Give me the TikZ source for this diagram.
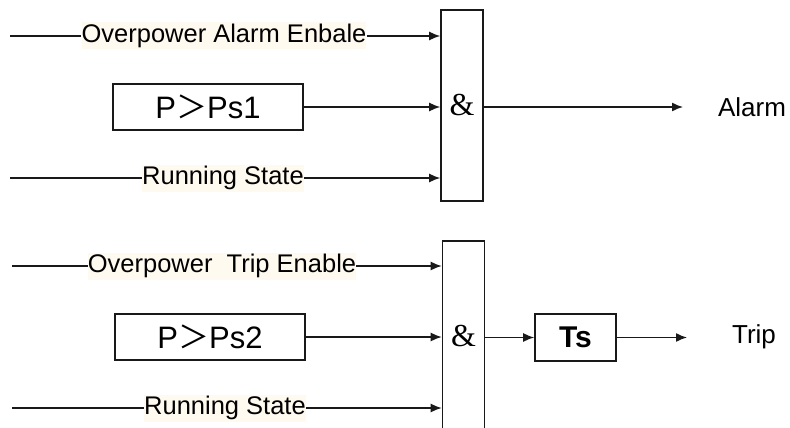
\documentclass[tikz,border=0pt]{standalone}
\usepackage{fontspec}
\setmainfont{Liberation Sans}
\newfontfamily\seriffam{Liberation Serif}
\newfontfamily\cjk{Noto Sans CJK SC}
\usetikzlibrary{arrows.meta}
\definecolor{labelbg}{RGB}{255,250,240}
\definecolor{linegray}{RGB}{25,25,25}
\tikzset{
  wire/.style={draw=linegray, line width=1.4pt},
  arr/.style={wire, -{Latex[length=11pt,width=9pt]}},
  sig/.style={fill=labelbg, inner sep=0pt, minimum height=27pt, font=\fontsize{25.5}{28}\selectfont},
  cmpbox/.style={draw=linegray, line width=1.6pt, minimum width=190pt, minimum height=46pt, inner sep=0pt, font=\fontsize{31}{34}\selectfont},
  gatebox/.style={draw=linegray, line width=1.6pt, minimum width=42pt, minimum height=191pt, inner sep=0pt, font=\seriffam\fontsize{32}{34}\selectfont},
  delaybox/.style={draw=linegray, line width=1.6pt, minimum width=81pt, minimum height=47pt, inner sep=0pt, font=\bfseries\fontsize{30}{34}\selectfont},
  outlbl/.style={inner sep=0pt, font=\fontsize{26}{28}\selectfont}
}
\begin{document}
\begin{tikzpicture}[x=1pt,y=-1pt]
\useasboundingbox (0,0) rectangle (790,428);
\clip (0,0) rectangle (790,428);
% upper block
\node[gatebox] (gA) at (462,105.5) {\&};
\coordinate (a1) at (10,36);
\coordinate (a3) at (10,178);
\node[sig] (la1) at (224,36) {Overpower Alarm Enbale};
\node[sig] (la3) at (223,178) {Running State};
\node[cmpbox] (cA) at (208,107) {P{\cjk ＞}Ps1};
\coordinate (oA) at (683,107);
\node[outlbl] (alarm) at (752,107) {Alarm};
\draw[wire] (a1) -- (la1.west);
\draw[arr] (la1.east) -- (la1.east -| gA.west);
\draw[wire] (a3) -- (la3.west);
\draw[arr] (la3.east) -- (la3.east -| gA.west);
\draw[arr] (cA.east) -- (cA.east -| gA.west);
\draw[arr] (gA.east |- oA) -- (oA);
% lower block
\node[gatebox] (gB) at (463.5,336.5) {\&};
\coordinate (b1) at (12,266);
\coordinate (b3) at (12,408);
\node[sig] (lb1) at (222,266) {Overpower\ \ Trip Enable};
\node[sig] (lb3) at (225,408) {Running State};
\node[cmpbox] (cB) at (210,337) {P{\cjk ＞}Ps2};
\node[delaybox] (ts) at (575.5,337.5) {Ts};
\coordinate (oB) at (687,337.5);
\node[outlbl] (trip) at (754,337) {Trip};
\draw[wire] (b1) -- (lb1.west);
\draw[arr] (lb1.east) -- (lb1.east -| gB.west);
\draw[wire] (b3) -- (lb3.west);
\draw[arr] (lb3.east) -- (lb3.east -| gB.west);
\draw[arr] (cB.east) -- (cB.east -| gB.west);
\draw[arr] (gB.east |- ts.west) -- (ts.west);
\draw[arr] (ts.east) -- (oB);
\end{tikzpicture}
\end{document}
